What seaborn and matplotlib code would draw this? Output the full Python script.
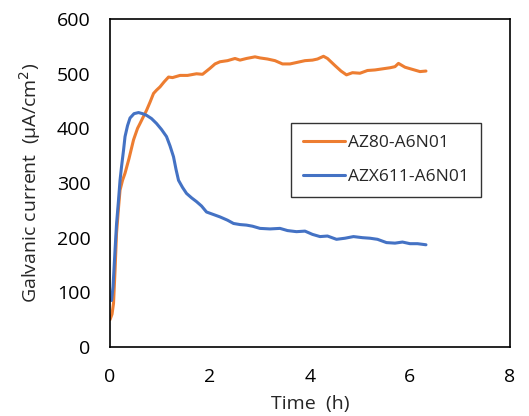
"""Galvanic current vs time for two Mg/Al couples."""

import numpy as np
import pandas as pd
import matplotlib.pyplot as plt
import seaborn as sns

# AZ80-A6N01 trace (time in h, current in uA/cm2)
az80_t = [0.0, 0.04, 0.07, 0.10, 0.13, 0.17, 0.20, 0.25, 0.30, 0.38, 0.47, 0.55,
          0.60, 0.67, 0.73, 0.80, 0.87, 0.93, 1.00, 1.08, 1.17, 1.25, 1.40, 1.55,
          1.73, 1.85, 2.00, 2.10, 2.20, 2.35, 2.50, 2.60, 2.73, 2.90, 3.00, 3.15,
          3.30, 3.45, 3.60, 3.75, 3.90, 4.05, 4.15, 4.27, 4.35, 4.50, 4.62, 4.73,
          4.85, 5.00, 5.15, 5.30, 5.45, 5.60, 5.70, 5.77, 5.90, 6.05, 6.20, 6.32]
az80_i = [50, 60, 80, 140, 208, 255, 287, 305, 318, 345, 379, 400,
          409, 422, 433, 448, 464, 470, 476, 485, 494, 493, 497, 497,
          500, 499, 510, 518, 522, 524, 528, 525, 528, 531, 529, 527,
          524, 518, 518, 521, 524, 525, 527, 532, 528, 515, 505, 498,
          502, 501, 506, 507, 509, 511, 513, 519, 512, 508, 504, 505]

# AZX611-A6N01 trace
azx_t = [0.03, 0.06, 0.10, 0.13, 0.17, 0.20, 0.23, 0.27, 0.30, 0.35, 0.40, 0.48,
         0.57, 0.65, 0.73, 0.83, 0.93, 1.03, 1.13, 1.20, 1.27, 1.32, 1.37, 1.45,
         1.53, 1.63, 1.73, 1.83, 1.93, 2.05, 2.20, 2.35, 2.47, 2.60, 2.73, 2.85,
         3.00, 3.20, 3.40, 3.55, 3.73, 3.90, 4.05, 4.20, 4.35, 4.53, 4.70, 4.87,
         5.05, 5.20, 5.35, 5.53, 5.70, 5.85, 6.00, 6.15, 6.32]
azx_i = [85, 110, 177, 225, 269, 305, 330, 360, 385, 405, 419, 427,
         429, 427, 424, 418, 409, 398, 385, 368, 348, 325, 305, 292,
         281, 273, 266, 258, 247, 243, 238, 232, 226, 224, 223, 221,
         217, 216, 217, 213, 211, 212, 206, 202, 203, 197, 199, 202,
         200, 199, 197, 191, 190, 192, 189, 189, 187]

labels = ["AZ80-A6N01", "AZX611-A6N01"]
palette = {"AZ80-A6N01": "#ED7D31", "AZX611-A6N01": "#4472C4"}

df = pd.concat([
    pd.DataFrame({"t": az80_t, "i": az80_i, "couple": labels[0]}),
    pd.DataFrame({"t": azx_t, "i": azx_i, "couple": labels[1]}),
], ignore_index=True)

sns.set_style("white")
plt.rcParams["font.family"] = ["Open Sans", "DejaVu Sans"]

fig = plt.figure(figsize=(5.29, 4.16), dpi=100)
ax = fig.add_axes([0.208, 0.166, 0.756, 0.788])

sns.lineplot(data=df, x="t", y="i", hue="couple", palette=palette,
             linewidth=2.2, sort=False, estimator=None, ax=ax)

ax.set_xlim(0, 8)
ax.set_ylim(0, 600)
ax.set_xticks([0, 2, 4, 6, 8])
ax.set_yticks(np.arange(0, 601, 100))
ax.tick_params(direction="in", length=5, width=1.2, labelsize=14,
               colors="black")
ax.tick_params(axis="y", pad=14)
ax.tick_params(axis="x", pad=15)
for s in ax.spines.values():
    s.set_visible(True)
    s.set_color("black")
    s.set_linewidth(1.2)

ax.set_xlabel("Time  (h)", fontsize=14, labelpad=7)
ax.set_ylabel("Galvanic current  (μA/cm$^2$)", fontsize=14, labelpad=10)

leg = ax.legend(loc="upper left", bbox_to_anchor=(0.4525, 0.683),
                fontsize=12.5, frameon=True, fancybox=False, handlelength=2.4,
                handletextpad=0.2, labelspacing=1.0, borderpad=0.7,
                borderaxespad=0)
leg.get_frame().set_edgecolor("black")
leg.get_frame().set_linewidth(1.0)
leg.set_title(None)

fig.savefig("out.png", dpi=100)
